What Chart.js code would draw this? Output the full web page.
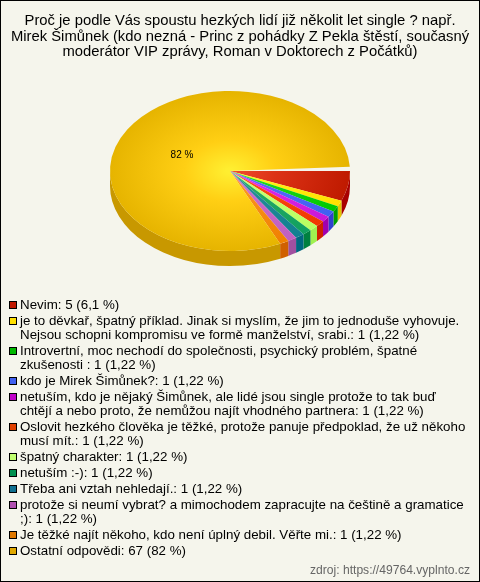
<!DOCTYPE html>
<html><head><meta charset="utf-8">
<script src="https://cdn.jsdelivr.net/npm/chart.js@4"></script>
<style>
html,body{margin:0;padding:0;background:#F5F5EC}
#wrap{position:relative;width:480px;height:582px;overflow:hidden}
canvas{position:absolute;left:0;top:0}
#frame{position:absolute;left:0;top:0;width:478px;height:580px;border:1px solid #000;pointer-events:none}
#legend{position:absolute;left:9px;top:298px;width:468px;font:13.33px/14px "Liberation Sans",Arial,sans-serif;color:#000}
#legend .it{position:relative;padding-left:11px;margin-bottom:2px;white-space:pre}
#legend i{position:absolute;left:0;top:3px;width:6px;height:6px;border:1px solid #000}
#src{position:absolute;right:10px;bottom:5px;font:12.1px "Liberation Sans",Arial,sans-serif;color:#666}
</style></head><body>
<div id="wrap"><canvas id="c" width="480" height="582"></canvas><div id="legend"></div><div id="src">zdroj: https://49764.vyplnto.cz</div><div id="frame"></div></div>
<script>
const titleLines=["Proč je podle Vás spoustu hezkých lidí již několit let single ? např.","Mirek Šimůnek (kdo nezná - Princ z pohádky Z Pekla štěstí, současný","moderátor VIP zprávy, Roman v Doktorech z Počátků)"];
const categories=["Nevim","je to děvkař, špatný příklad. Jinak si myslím, že jim to jednoduše vyhovuje.\nNejsou schopni kompromisu ve formě manželství, srabi.","Introvertní, moc nechodí do společnosti, psychický problém, špatné\nzkušenosti ","kdo je Mirek Šimůnek?","netuším, kdo je nějaký Šimůnek, ale lidé jsou single protože to tak buď\nchtějí a nebo proto, že nemůžou najít vhodného partnera","Oslovit hezkého člověka je těžké, protože panuje předpoklad, že už někoho\nmusí mít.","špatný charakter","netuším :-)","Třeba ani vztah nehledají.","protože si neumí vybrat? a mimochodem zapracujte na češtině a gramatice\n;)","Je těžké najít někoho, kdo není úplný debil. Věřte mi.","Ostatní odpovědi"];
const values=[5,1,1,1,1,1,1,1,1,1,1,67];
const percents=["6,1 %","1,22 %","1,22 %","1,22 %","1,22 %","1,22 %","1,22 %","1,22 %","1,22 %","1,22 %","1,22 %","82 %"];
const legendColors=["#C01800","#FFE000","#00B800","#4060F0","#C000C8","#E04000","#C0FF70","#009050","#107090","#B050B0","#E07800","#E0A800"];
const innerColors=["#F04B2B","#FFFF20","#30E030","#6070FF","#F030F0","#FF5020","#D0FF80","#30B070","#3090A0","#D080D0","#FFA030","#FFEE30"];
const midColors=["#DC3216","#FFF010","#18D418","#5068F8","#DC24E4","#F84410","#C4FF70","#20A860","#208898","#C868C8","#F89018","#FFCF14"];
const outerColors=["#BF1A00","#FFE000","#00C800","#4060F0","#C818D8","#F03800","#B8FF60","#10A060","#108090","#C060C0","#F08000","#E6B400"];
const sideColors=["#A80000","#E0C800","#00A000","#3040D0","#A000B0","#D02000","#A0F050","#008040","#006880","#A050A0","#D06000","#C89800"];
const pieLabel="82 %";
const squash=80/120, depth=15, screenCy=171, shiftX=-10, pieRadius=120;

document.getElementById('legend').innerHTML=categories.map((c,i)=>`<div class="it"><i style="background:${legendColors[i]}"></i></div>`).join('');
[...document.querySelectorAll('#legend .it')].forEach((el,i)=>el.appendChild(document.createTextNode(`${categories[i]}: ${values[i]} (${percents[i]})`)));

const pie3d={id:'pie3d',
 beforeDatasetsDraw(chart){
  const ctx=chart.ctx,arcs=chart.getDatasetMeta(0).data;
  ctx.save();
  arcs.forEach((a,i)=>{
    const p=a.getProps(['x','startAngle','endAngle','outerRadius']);
    const segs=[];
    const s=Math.max(p.startAngle,0), e=Math.min(p.endAngle,Math.PI);
    if(e>s)segs.push([s,e]);
    const s2=Math.max(p.startAngle,Math.PI*2),e2=Math.min(p.endAngle,Math.PI*3);
    if(e2>s2)segs.push([s2,e2]);
    segs.forEach(([u,v])=>{
      const rx=p.outerRadius,ry=rx*squash;
      ctx.beginPath();
      ctx.ellipse(p.x+shiftX,screenCy,rx,ry,0,u,v);
      ctx.ellipse(p.x+shiftX,screenCy+depth,rx,ry,0,v,u,true);
      ctx.closePath();
      ctx.fillStyle=sideColors[i];ctx.fill();
    });
  });
  ctx.restore();
  const cy=(chart.chartArea.top+chart.chartArea.bottom)/2;
  ctx.save();
  ctx.translate(shiftX,screenCy);ctx.scale(1,squash);ctx.translate(0,-cy);
 },
 afterDatasetsDraw(chart){
  const ctx=chart.ctx;ctx.restore();
  const big=chart.getDatasetMeta(0).data[values.length-1];
  ctx.save();
  ctx.font='10px "Liberation Sans",Arial,sans-serif';ctx.fillStyle='#000';ctx.textAlign='center';ctx.textBaseline='middle';
  ctx.fillText(pieLabel,big.x+shiftX-48,screenCy-16);
  ctx.restore();
 }
};
new Chart(document.getElementById('c'),{
 type:'pie',
 data:{labels:categories,datasets:[{data:values,borderWidth:0,clip:false,radius:pieRadius,
  backgroundColor(c){
   const a=c.chart.chartArea; if(!a)return outerColors[c.dataIndex];
   const x=(a.left+a.right)/2,y=(a.top+a.bottom)/2;
   const g=c.chart.ctx.createRadialGradient(x,y,0,x,y,pieRadius);
   g.addColorStop(0.03,innerColors[c.dataIndex]);g.addColorStop(0.38,midColors[c.dataIndex]);g.addColorStop(1,outerColors[c.dataIndex]);
   return g;
  }}]},
 options:{responsive:false,animation:false,rotation:90,circumference:357,
  layout:{padding:{left:0,right:0,top:0,bottom:280}},
  plugins:{legend:{display:false},tooltip:{enabled:false},
   title:{display:true,text:titleLines,color:'#000',font:{family:'"Liberation Sans",Arial,sans-serif',size:14.8,weight:'normal',lineHeight:1.06},padding:{top:13,bottom:3}}}},
 plugins:[pie3d]
});
</script></body></html>
